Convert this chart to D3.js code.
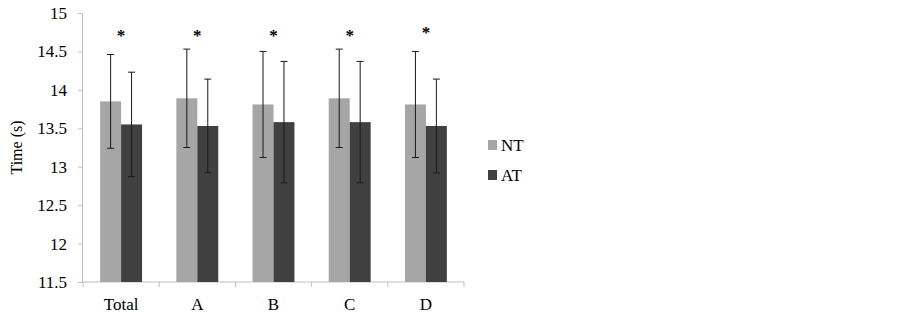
<!DOCTYPE html>
<html>
<head>
<meta charset="utf-8">
<script src="https://cdn.jsdelivr.net/npm/d3@7/dist/d3.min.js"></script>
<style>
  body { margin:0; background:#fff; }
  svg { display:block; }
  text { font-family:'Times New Roman','Liberation Serif','DejaVu Serif',serif; }
  .axis text { font-size:17px; fill:#000; }
  .axis path, .axis line { stroke:#bfbfbf; stroke-width:1; }
</style>
</head>
<body>
<div id="chart"></div>
<script>
// data
const categories = ['Total','A','B','C','D'];
const series = ['NT','AT'];
const ntMean = [13.85,13.89,13.81,13.89,13.81];
const ntSd   = [0.61,0.64,0.69,0.64,0.69];
const atMean = [13.55,13.53,13.58,13.58,13.53];
const atSd   = [0.68,0.61,0.79,0.79,0.61];
const starAt = [14.75,14.75,14.75,14.75,14.79];
const yTicks = [11.5,12,12.5,13,13.5,14,14.5,15];

(function() {
  const W = 902, H = 319;
  const C = {NT:'#a6a6a6', AT:'#404040'};
  const m = {top:13,left:82,right:439,bottom:37};
  const w = W-m.left-m.right, h = H-m.top-m.bottom;

  const rows = [];
  categories.forEach((c,i) => {
    rows.push({cat:c, s:'NT', v:ntMean[i], sd:ntSd[i]});
    rows.push({cat:c, s:'AT', v:atMean[i], sd:atSd[i]});
  });

  const xSc = d3.scaleBand().domain(categories).range([1,w+1]).padding(0);
  const sSc = d3.scaleBand().domain(series).range([xSc.bandwidth()*0.225, xSc.bandwidth()*0.775]).padding(0);
  const ySc = d3.scaleLinear().domain([11.5,15]).range([h,0]);

  const svg = d3.select('#chart').append('svg').attr('width',W).attr('height',H);
  const g = svg.append('g').attr('transform',`translate(${m.left},${m.top})`);

  // y axis
  g.append('g').attr('class','axis')
    .call(d3.axisLeft(ySc).tickValues(yTicks).tickSize(4).tickPadding(11).tickSizeOuter(0).tickFormat(d3.format('')))
    .attr('font-family',null).attr('font-size',null);

  // x axis: labels at centres, ticks at band edges
  const xa = g.append('g').attr('class','axis').attr('transform',`translate(0,${h})`)
    .call(d3.axisBottom(xSc).tickSize(0).tickPadding(16).tickSizeOuter(0))
    .attr('font-family',null).attr('font-size',null);
  xa.select('.domain').attr('d',`M0,0H${w+1}`);
  xa.selectAll('.edge').data(categories.concat(['end'])).join('line').attr('class','edge')
    .attr('x1',d=>d==='end'?xSc.range()[1]:xSc(d)).attr('x2',d=>d==='end'?xSc.range()[1]:xSc(d))
    .attr('y1',0).attr('y2',5).attr('stroke','#bfbfbf');

  // bars
  g.selectAll('.bar').data(rows).join('rect').attr('class','bar')
    .attr('x',d=>xSc(d.cat)+sSc(d.s)).attr('width',sSc.bandwidth())
    .attr('y',d=>ySc(d.v)).attr('height',d=>h-ySc(d.v))
    .attr('fill',d=>C[d.s]);

  // error bars
  const eb = g.selectAll('.err').data(rows).join('g').attr('class','err')
    .attr('transform',d=>`translate(${xSc(d.cat)+sSc(d.s)+sSc.bandwidth()/2},0)`)
    .attr('stroke','#1a1a1a').attr('stroke-width',1);
  eb.append('line').attr('y1',d=>ySc(d.v+d.sd)).attr('y2',d=>ySc(d.v-d.sd));
  eb.append('line').attr('x1',-3.5).attr('x2',3.5).attr('y1',d=>ySc(d.v+d.sd)).attr('y2',d=>ySc(d.v+d.sd));
  eb.append('line').attr('x1',-3.5).attr('x2',3.5).attr('y1',d=>ySc(d.v-d.sd)).attr('y2',d=>ySc(d.v-d.sd));

  // significance stars
  g.selectAll('.star').data(categories).join('text').attr('class','star')
    .attr('x',d=>xSc(d)+xSc.bandwidth()/2).attr('y',(d,i)=>ySc(starAt[i])+9)
    .attr('text-anchor','middle')
    .style('font-weight','700').style('font-size','17px')
    .text('*');

  // y label
  svg.append('text').attr('transform','rotate(-90)').attr('x',-(m.top+h/2)).attr('y',22)
    .attr('text-anchor','middle')
    .style('font-size','16px')
    .text('Time (s)');

  // legend
  const lg = svg.append('g').attr('transform','translate(488,140)');
  const li = lg.selectAll('.li').data(series).join('g').attr('class','li')
    .attr('transform',(d,i)=>`translate(0,${i*30})`);
  li.append('rect').attr('width',9).attr('height',10).attr('fill',d=>C[d]);
  li.append('text').attr('x',13).attr('y',10.5)
    .style('font-size','17px')
    .text(d=>d);
})();
</script>
</body>
</html>
